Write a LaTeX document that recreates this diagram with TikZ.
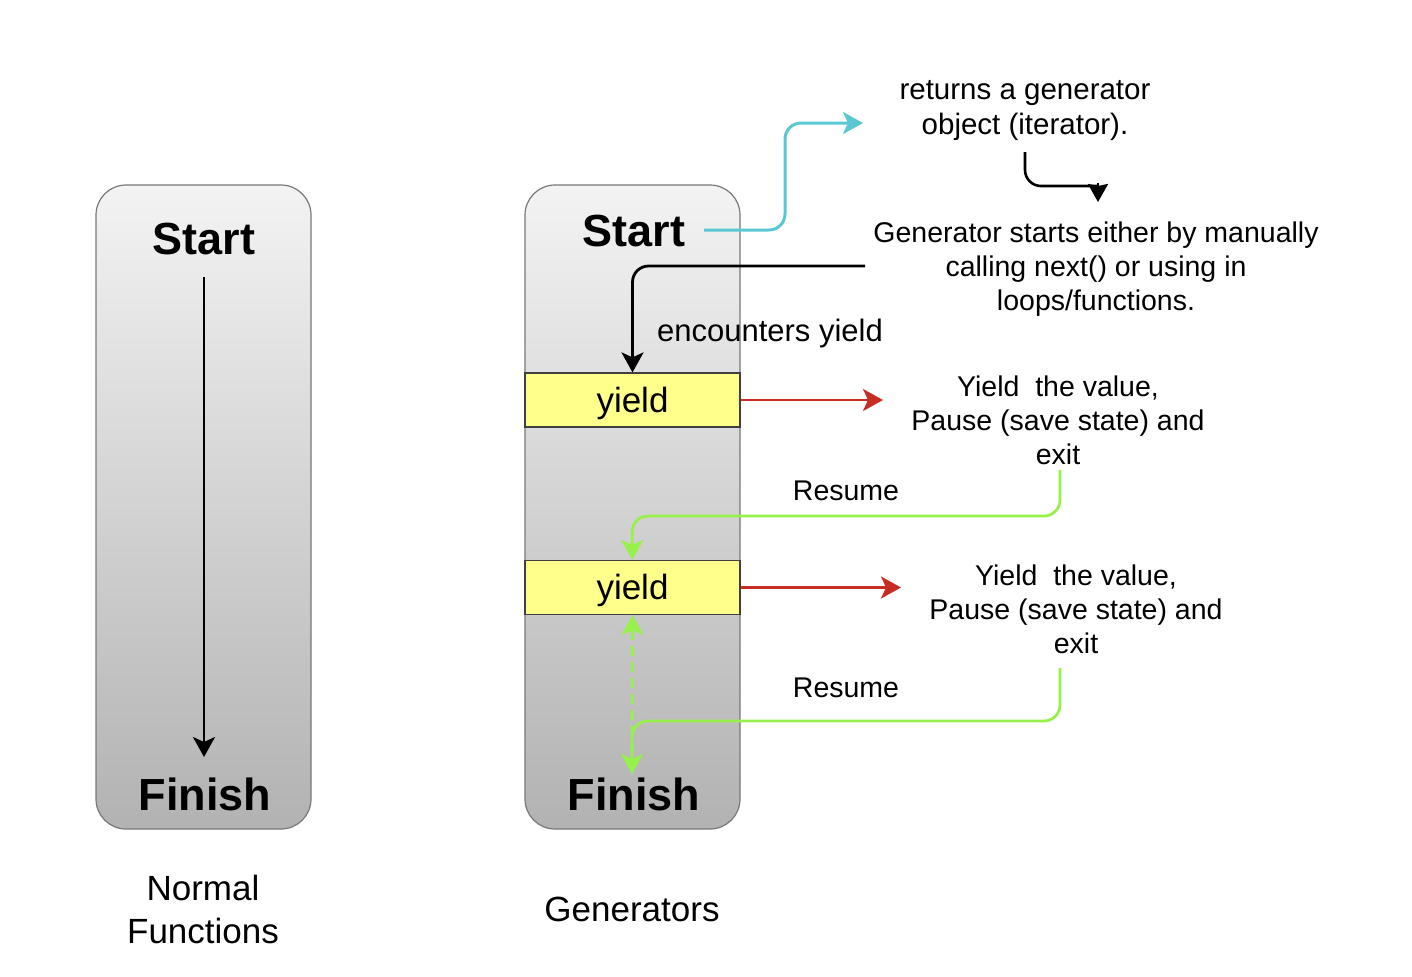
\documentclass[tikz,border=0pt]{standalone}
\usepackage{fontspec}
\setmainfont{Liberation Sans}
\usetikzlibrary{arrows.meta,calc}
\definecolor{boxtop}{RGB}{243,243,243}
\definecolor{boxbot}{RGB}{178,178,178}
\definecolor{boxline}{RGB}{120,120,120}
\definecolor{yieldfill}{RGB}{255,255,140}
\definecolor{cyanline}{RGB}{90,200,210}
\definecolor{redline}{RGB}{200,45,35}
\definecolor{greenline}{RGB}{150,242,75}
\tikzset{
  colbox/.style={draw=boxline, line width=0.6pt, top color=boxtop, bottom color=boxbot,
    rounded corners=15pt, minimum width=107.5pt, minimum height=322pt, inner sep=0pt},
  yieldbox/.style={draw=black!75, line width=0.6pt, fill=yieldfill, minimum width=107.5pt,
    minimum height=27pt, inner sep=0pt, text height=15pt, text depth=3pt,
    font=\fontsize{17.5}{20}\selectfont},
  bigtxt/.style={font=\fontsize{22.5}{26}\selectfont\bfseries, inner sep=0pt},
  note/.style={font=\fontsize{14.25}{17}\selectfont, align=center, inner sep=0pt},
  caption/.style={font=\fontsize{17.5}{21.5}\selectfont, align=center, inner sep=0pt},
  tip/.style={-{Stealth[length=10pt,width=11pt,inset=2.5pt]}},
  conn/.style={line width=1.4pt, rounded corners=8pt, tip},
}
\begin{document}
\begin{tikzpicture}[x=0.5pt,y=-0.5pt]
\useasboundingbox (0,0) rectangle (1412,976);

% Normal functions column
\node[colbox] (nf) at (203.5,507) {};
\node[bigtxt] (nfs) at (204,239) {Start};
\node[bigtxt] (nff) at (205,794) {Finish};
\coordinate (nfa) at (204,277);
\coordinate (nfb) at (204,757);
\draw[line width=1.3pt, tip] (nfa) -- (nfb);
\node[caption] (nfc) at (203,909) {Normal\\Functions};

% Generators column
\node[colbox] (gc) at (632.5,507) {};
\node[bigtxt] (gs) at (634,231) {Start};
\node[yieldbox] (y1) at (632.5,400) {yield};
\node[yieldbox] (y2) at (632.5,587.5) {yield};
\node[bigtxt] (gf) at (634,794) {Finish};
\node[caption] (gcap) at (632,909) {Generators};

% Notes
\node[note, font=\fontsize{14.75}{17.5}\selectfont] (ret) at (1025,111) {returns a generator\\object (iterator).};
\node[note] (gen) at (1096,269) {Generator starts either by manually\\calling next() or using in\\loops/functions.};
\node[note] (yv1) at (1058,420) {Yield~~the value,\\Pause (save state) and\\exit};
\node[note] (yv2) at (1076,609) {Yield~~the value,\\Pause (save state) and\\exit};
\node[note, font=\fontsize{15.5}{18}\selectfont] (enc) at (770,333) {encounters yield};
\node[note] (res1) at (846,491) {Resume};
\node[note] (res2) at (846,688) {Resume};

% Connector end points
\coordinate (c0) at (704,230);
\coordinate (c1) at (863,123);
\coordinate (r0) at (1025,152);
\coordinate (r1) at (1098,186);
\coordinate (r2) at (1098,202);
\coordinate (g0) at (865,266);
\coordinate (red1) at (883,400);
\coordinate (red2) at (901,587.5);
\coordinate (gr1) at (1060,470);
\coordinate (gr2) at (1060,668);
\coordinate (ftop) at (632,774);
\coordinate (dsh) at (632,752);

% Cyan: start -> returns generator
\draw[conn, color=cyanline, line width=1.5pt] (c0) -- (785,230) -- (785,123) -- (c1);

% Black: returns -> generator starts
\draw[line width=1.3pt, rounded corners=8pt] (r0) |- (r1);
\draw[line width=1.3pt, -{Stealth[length=9pt,width=10pt,inset=1pt]}] ($(r1)+(0,-3)$) -- (r2);

% Black: generator starts -> yield1
\draw[conn] (g0) -| (y1.north);

% Red: yield -> notes
\draw[conn, color=redline] (y1.east) -- (red1);
\draw[conn, color=redline] (y2.east) -- (red2);

% Green: resume arrows
\draw[conn, color=greenline] (gr1) |- (632,516) -- (y2.north);
\draw[conn, color=greenline] (gr2) |- (632,721) -- (ftop);
\draw[conn, color=greenline, dash pattern=on 5pt off 3pt] (dsh) -- (y2.south);
\end{tikzpicture}
\end{document}
